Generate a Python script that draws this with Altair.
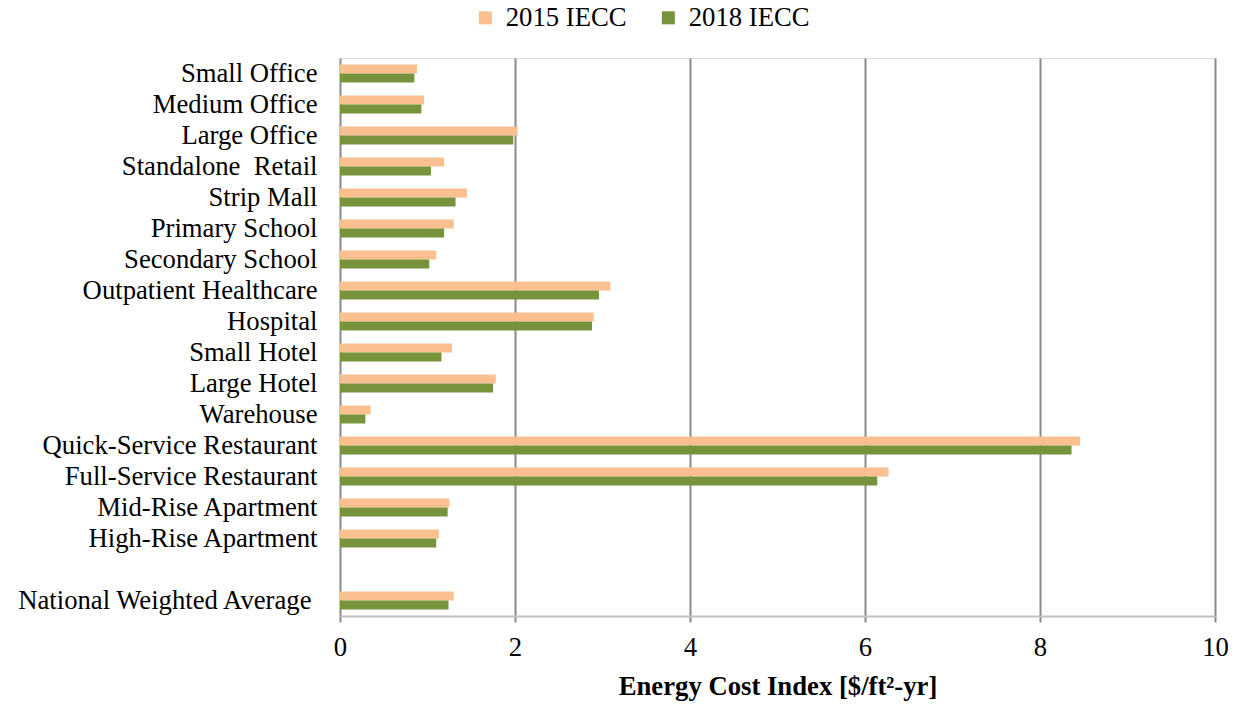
import altair as alt
import pandas as pd

categories = [
    "Small Office", "Medium Office", "Large Office", "Standalone\u00a0 Retail",
    "Strip Mall", "Primary School", "Secondary School", "Outpatient Healthcare",
    "Hospital", "Small Hotel", "Large Hotel", "Warehouse",
    "Quick-Service Restaurant", "Full-Service Restaurant", "Mid-Rise Apartment",
    "High-Rise Apartment", "National Weighted Average",
]
iecc_2015 = [0.88, 0.96, 2.03, 1.19, 1.45, 1.30, 1.10, 3.09, 2.90, 1.28, 1.78,
             0.35, 8.46, 6.27, 1.25, 1.13, 1.30]
iecc_2018 = [0.85, 0.93, 1.98, 1.04, 1.32, 1.19, 1.02, 2.96, 2.88, 1.16, 1.75,
             0.29, 8.36, 6.14, 1.23, 1.10, 1.24]
series = ["2015 IECC", "2018 IECC"]
colors = ["#FAC090", "#77933C"]
x_ticks = [0, 2, 4, 6, 8, 10]

# y domain with a blank spacer row before the national average
y_domain = categories[:-1] + [" "] + categories[-1:]

rows = []
for c, a, b in zip(categories, iecc_2015, iecc_2018):
    rows.append({"Building": c, "Series": series[0], "ECI": a})
    rows.append({"Building": c, "Series": series[1], "ECI": b})
df = pd.DataFrame(rows)

FONT = "Times New Roman, Liberation Serif, serif"
FS = 26.7

chart = alt.Chart(df).mark_bar().encode(
    x=alt.X("ECI:Q",
            scale=alt.Scale(domain=[0, 10], nice=False),
            axis=alt.Axis(values=x_ticks, title="Energy Cost Index [$/ft\u00b2-yr]",
                          grid=True, gridColor="#898989", gridWidth=2,
                          domainColor="#C0C0C0", domainWidth=2,
                          tickColor="#898989", tickWidth=2, tickSize=6,
                          labelFlush=False,
                          labelFontSize=FS, labelFont=FONT, labelColor="#000000",
                          labelPadding=12,
                          titleFont=FONT, titleFontSize=FS, titleFontWeight="bold",
                          titleColor="#000000", titlePadding=13)),
    y=alt.Y("Building:N",
            scale=alt.Scale(domain=y_domain, paddingInner=0.42, paddingOuter=0.21),
            axis=alt.Axis(title=None, domain=False, ticks=False,
                          labelFontSize=FS, labelFont=FONT, labelColor="#000000",
                          labelPadding={"condition": {"test": "datum.value === 'National Weighted Average'",
                                                      "value": 29},
                                        "value": 23},
                          labelLimit=400)),
    yOffset=alt.YOffset("Series:N", sort=series),
    color=alt.Color("Series:N",
                    scale=alt.Scale(domain=series, range=colors),
                    legend=alt.Legend(title=None, orient="none", direction="horizontal",
                                      legendX=132, legendY=-54,
                                      symbolType="square", symbolSize=169,
                                      symbolStrokeWidth=0,
                                      labelFont=FONT, labelFontSize=FS,
                                      labelColor="#000000", labelOffset=7,
                                      columnPadding=28)),
).properties(
    width=875,
    height=558,
    autosize=alt.AutoSizeParams(type="none"),
    padding={"left": 340, "top": 58, "right": 22, "bottom": 88},
).configure_view(stroke=None).configure(background="#FFFFFF")

chart.save("out.html", embed_options={"renderer": "svg", "actions": False})
